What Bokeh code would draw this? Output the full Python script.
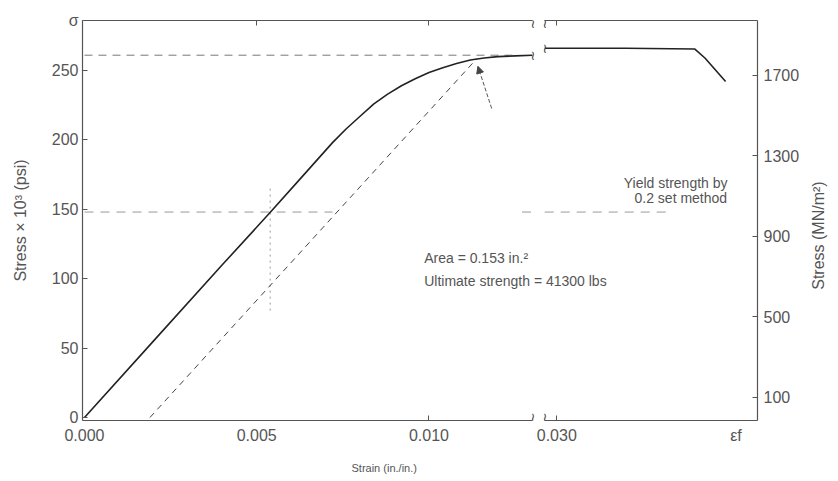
import math
from bokeh.plotting import figure
from bokeh.models import (Range1d, LinearAxis, FixedTicker, Label, Arrow, NormalHead, Grid)
from bokeh.embed import file_html
from bokeh.resources import INLINE

# ---------------- data ----------------
# elastic / early plastic part (strain in in./in., stress in ksi)
strain_low = [0.0, 0.0020, 0.0040, 0.0054, 0.0063, 0.0072, 0.0076, 0.0080, 0.0084,
              0.0088, 0.0092, 0.0096, 0.0100, 0.0104, 0.0108, 0.0112, 0.0116,
              0.0120, 0.0125, 0.0130]
stress_low = [0, 55, 110, 148, 173, 198, 208, 217, 226, 233, 239, 244, 248.5,
              252, 255, 257.5, 259, 260, 260.5, 261]
# part after the axis break
strain_high = [0.02965, 0.0300, 0.0320, 0.0340, 0.0343, 0.0349]
stress_high = [266, 266, 266, 265.5, 259, 242]
# 0.2 offset (set) line
offset_strain = [0.0019, 0.01139]
offset_stress = [0, 258.6]
# dashed reference level at yield strength
yield_strain = [0.0, 0.0125]
yield_stress = [261, 261]
# faint dashed level near 150 ksi
level150_strain_a = [0.0, 0.0072]
level150_strain_b = [0.0127, 0.0130]
level150_strain_c = [0.02965, 0.0332]
level150_stress = [148, 148]
# faint dotted vertical
dot_strain = [0.00539, 0.00539]
dot_stress = [77, 167]

ksi_ticks = [0, 50, 100, 150, 200, 250]
mpa_ticks = [100, 500, 900, 1300, 1700]
strain_ticks = [0.0, 0.005, 0.010]
strain_tick_labels = ["0.000", "0.005", "0.010"]
top_ticks_low = [0.005, 0.010]
bottom_ticks_low = [0.010]
strain_ticks_high = [0.030]
strain_tick_labels_high = ["0.030"]
eps_f = 0.0352
eps_f_label = "εf"
corner_label = "σ"
x_title = "Strain (in./in.)"
y_title = "Stress × 10³ (psi)"
y2_title = "Stress (MN/m²)"

# ranges (broken strain axis drawn with two x ranges of equal scale)
L0, L1 = -0.000058, 0.019536
R0, R1 = 0.016232, 0.035826
BREAK_L, BREAK_R = 0.01301, 0.02965
Y0, Y1 = -2.16, 286.0
KSI_TO_MPA = 6.894757
SHIFT = R0 - L0          # high-range strain -> low-range position
X_TITLE_AT = 0.00870     # where the strain title is centred (low range)
Y2_TITLE_AT = 92.0       # where the MN/m² title starts (ksi)

TXT = "#555555"
FONT = "Liberation Sans"

p = figure(width=838, height=480, x_range=Range1d(L0, L1), y_range=Range1d(Y0, Y1),
           output_backend="svg", toolbar_location=None,
           x_axis_location=None, y_axis_location=None,
           min_border_left=82, min_border_right=80, min_border_top=20,
           min_border_bottom=60)
p.outline_line_color = None
p.background_fill_color = "white"
p.extra_x_ranges = {"high": Range1d(R0, R1)}
p.extra_y_ranges = {"mpa": Range1d(Y0 * KSI_TO_MPA, Y1 * KSI_TO_MPA)}


def style(ax, labels=True):
    ax.axis_line_color = "#555555"
    ax.axis_line_width = 1.2
    ax.major_tick_in = 5
    ax.major_tick_out = 0
    ax.major_tick_line_color = "#555555"
    ax.minor_tick_line_color = None
    ax.major_label_text_font = FONT
    ax.major_label_text_font_size = "16px"
    ax.major_label_text_color = TXT
    ax.axis_label_text_font = FONT
    ax.axis_label_text_font_style = "normal"
    ax.axis_label_text_color = TXT
    ax.axis_label_text_font_size = "16px"
    if not labels:
        ax.major_label_text_color = None
        ax.major_label_text_font_size = "0px"
        ax.major_label_standoff = 0
    return ax


left = style(LinearAxis(ticker=FixedTicker(ticks=ksi_ticks + [Y1]), axis_label=y_title))
left.major_label_overrides = {Y1: corner_label}
left.major_label_standoff = 4
left.axis_label_standoff = 20
p.add_layout(left, "left")

right = style(LinearAxis(y_range_name="mpa", ticker=FixedTicker(ticks=mpa_ticks)))
right.major_label_standoff = 6
p.add_layout(right, "right")

right_title = style(LinearAxis(ticker=FixedTicker(ticks=[Y2_TITLE_AT])))
right_title.major_label_overrides = {Y2_TITLE_AT: y2_title}
right_title.major_label_orientation = math.pi / 2
right_title.major_label_text_font_size = "16px"
right_title.major_label_standoff = 16
right_title.axis_line_color = None
right_title.major_tick_line_color = None
p.add_layout(right_title, "right")

# frame lines with the break (top)
p.add_layout(style(LinearAxis(ticker=FixedTicker(ticks=top_ticks_low),
                              bounds=(L0, BREAK_L)), labels=False), "above")
p.add_layout(style(LinearAxis(x_range_name="high", ticker=FixedTicker(ticks=strain_ticks_high),
                              bounds=(BREAK_R, R1)), labels=False), "above")
# frame lines with the break (bottom)
p.add_layout(style(LinearAxis(ticker=FixedTicker(ticks=bottom_ticks_low),
                              bounds=(L0, BREAK_L)), labels=False), "below")
p.add_layout(style(LinearAxis(x_range_name="high", ticker=FixedTicker(ticks=strain_ticks_high),
                              bounds=(BREAK_R, R1)), labels=False), "below")

# tick labels of both parts of the broken strain axis
lab_ticks = strain_ticks + [t - SHIFT for t in strain_ticks_high] + [eps_f - SHIFT]
lab_text = strain_tick_labels + strain_tick_labels_high + [eps_f_label]
lab = style(LinearAxis(ticker=FixedTicker(ticks=lab_ticks)))
lab.major_label_overrides = dict(zip(lab_ticks, lab_text))
lab.axis_line_color = None
lab.major_tick_line_color = None
lab.major_label_standoff = 6
p.add_layout(lab, "below")

# title of the strain axis
title_ax = style(LinearAxis(ticker=FixedTicker(ticks=[X_TITLE_AT])))
title_ax.major_label_overrides = {X_TITLE_AT: x_title}
title_ax.major_label_text_font_size = "11px"
title_ax.major_label_standoff = 15
title_ax.axis_line_color = None
title_ax.major_tick_line_color = None
p.add_layout(title_ax, "below")

for g in p.select(type=Grid):
    g.visible = False

# ---------------- curves ----------------
p.line(level150_strain_a, level150_stress, line_color="#9a9a9a", line_width=1, line_dash="9 7")
p.line(level150_strain_b, level150_stress, line_color="#9a9a9a", line_width=1, line_dash="9 7")
p.line(level150_strain_c, level150_stress, line_color="#9a9a9a", line_width=1, line_dash="9 7",
       x_range_name="high")
p.line(dot_strain, dot_stress, line_color="#999999", line_width=1, line_dash="2 4")
p.line(yield_strain, yield_stress, line_color="#777777", line_width=1, line_dash="8 6")
p.line(offset_strain, offset_stress, line_color="#444444", line_width=1, line_dash="6 5")
p.line(strain_low, stress_low, line_color="#222222", line_width=1.6)
p.line(strain_high, stress_high, line_color="#222222", line_width=1.6, x_range_name="high")

# break marks
for xr, xv, yv in [("default", BREAK_L, Y1 - 2.5), ("high", BREAK_R, Y1 - 2.5),
                   ("default", BREAK_L, Y0 + 2.5), ("high", BREAK_R, Y0 + 2.5),
                   ("default", BREAK_L, stress_low[-1]), ("high", BREAK_R, stress_high[0])]:
    p.add_layout(Label(x=xv, y=yv, x_range_name=xr, text="≀", text_font="DejaVu Sans",
                       text_font_size="13px", text_color="#444444",
                       text_align="center", text_baseline="middle"))

# ---------------- texts ----------------
def txt(x, y, s, xr="default", size="14px", align="left"):
    p.add_layout(Label(x=x, y=y, x_range_name=xr, text=s, text_font=FONT,
                       text_font_size=size, text_color=TXT, text_align=align,
                       text_baseline="middle"))

txt(0.03345, 168.6, "Yield strength by", xr="high", align="center")
txt(0.03360, 158.0, "0.2 set method", xr="high", align="center")
txt(0.00986, 114.6, "Area = 0.153 in.²")
txt(0.00986, 98.0, "Ultimate strength = 41300 lbs")

p.add_layout(Arrow(end=NormalHead(size=7, fill_color="#444444", line_color="#444444"),
                   x_start=0.01182, y_start=222.6, x_end=0.01142, y_end=253.0,
                   line_color="#555555", line_width=1, line_dash="4 2"))

open("out.html", "w").write(file_html(p, INLINE))
